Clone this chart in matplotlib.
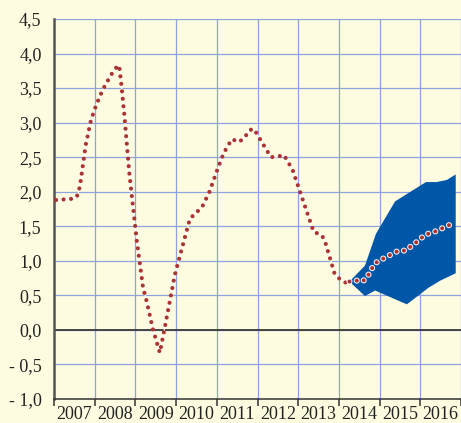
import numpy as np
import matplotlib
matplotlib.use("Agg")
import matplotlib.pyplot as plt

plt.rcParams['font.family'] = ['Liberation Serif', 'DejaVu Serif']
plt.rcParams['lines.scale_dashes'] = False

# historical series
hist_x = [2007.05, 2007.50, 2007.58, 2007.64, 2007.78, 2007.91, 2008.04, 2008.20,
          2008.40, 2008.52, 2008.60, 2008.65, 2008.73, 2008.85, 2009.03, 2009.19,
          2009.25, 2009.43, 2009.60, 2009.74, 2009.97, 2010.34, 2010.50, 2010.64,
          2010.82, 2011.02, 2011.17, 2011.37, 2011.55, 2011.69, 2011.80, 2011.91,
          2012.33, 2012.50, 2012.65, 2012.86, 2013.38, 2013.58, 2013.66, 2013.89,
          2014.03, 2014.18]
hist_y = [1.88, 1.90, 1.95, 2.09, 2.68, 3.04, 3.26, 3.48,
          3.69, 3.79, 3.83, 3.58, 3.10, 2.27, 1.31, 0.60,
          0.48, 0.01, -0.33, 0.09, 0.80, 1.61, 1.70, 1.78,
          2.00, 2.33, 2.56, 2.76, 2.72, 2.79, 2.89, 2.91,
          2.50, 2.51, 2.53, 2.32, 1.42, 1.37, 1.28, 0.82,
          0.73, 0.68]

# forecast (central path)
fc_x = [2014.26, 2014.37, 2014.58, 2014.70, 2014.80, 2014.90, 2015.08, 2015.44,
        2015.64, 2015.97, 2016.12, 2016.31, 2016.87]
fc_y = [0.70, 0.72, 0.70, 0.77, 0.88, 0.97, 1.03, 1.14,
        1.15, 1.30, 1.38, 1.41, 1.56]

# forecast band
band_up_x = [2014.26, 2014.64, 2014.91, 2015.38, 2016.14, 2016.40, 2016.65, 2016.87]
band_up_y = [0.70, 0.93, 1.39, 1.86, 2.14, 2.14, 2.17, 2.25]
band_lo_x = [2014.26, 2014.64, 2014.89, 2015.67, 2016.20, 2016.48, 2016.87]
band_lo_y = [0.70, 0.49, 0.57, 0.37, 0.61, 0.71, 0.82]

years = list(range(2007, 2017))
yticks = [-1.0, -0.5, 0.0, 0.5, 1.0, 1.5, 2.0, 2.5, 3.0, 3.5, 4.0, 4.5]

BG = '#FEFCE0'
RED = '#AA3333'
BLUE = '#0057A8'
GRID = '#8FA2E0'

fig = plt.figure(figsize=(4.61, 4.23), dpi=100, facecolor=BG)
ax = fig.add_axes([54 / 461, 1 - 399 / 423, 1 - 54 / 461, 380 / 423])
ax.set_facecolor(BG)

ax.set_xlim(2007, 2017)
ax.set_ylim(-1.0, 4.5)

# grid
ax.set_xticks([y for y in years] + [2017])
ax.set_yticks(yticks)
ax.grid(True, color=GRID, lw=0.9)
ax.set_axisbelow(True)
ax.axhline(0, color='#3a3a3a', lw=1.3, zorder=2)

# band
poly_x = band_up_x + band_lo_x[::-1]
poly_y = band_up_y + band_lo_y[::-1]
ax.fill(poly_x, poly_y, color=BLUE, lw=0, zorder=3)

# history: thin white line under red dots
ax.plot(hist_x, hist_y, color='white', lw=1.0, zorder=4)
ax.plot(hist_x, hist_y, color=RED, lw=3.0, dash_capstyle='round',
        linestyle=(0, (0.01, 5.4)), zorder=5)

# forecast: red dots with white rim
ax.plot(fc_x, fc_y, color='white', lw=4.4, dash_capstyle='round',
        linestyle=(0, (0.01, 5.4)), zorder=5)
ax.plot(fc_x, fc_y, color=RED, lw=3.0, dash_capstyle='round',
        linestyle=(0, (0.01, 5.4)), zorder=6)

# spines
for s in ['top', 'right']:
    ax.spines[s].set_visible(False)
ax.spines['left'].set_color('#555555')
ax.spines['left'].set_linewidth(1.8)
ax.spines['bottom'].set_color('#333333')
ax.spines['bottom'].set_linewidth(1.1)

# tick labels
ylabels = [('- ' + f'{abs(v):.1f}').replace('.', ',') if v < 0 else f'{v:.1f}'.replace('.', ',')
           for v in yticks]
ax.set_yticklabels(ylabels, fontsize=13, color='#222222')
ax.tick_params(axis='y', length=0, pad=9)
ax.tick_params(axis='x', which='major', direction='out', length=5, width=1.1,
               color='#333333', labelbottom=False)
ax.set_xticks([y + 0.5 for y in years], minor=True)
ax.set_xticklabels([str(y) for y in years], minor=True, fontsize=13, color='#222222')
ax.tick_params(axis='x', which='minor', length=0, pad=5)

fig.savefig('out.png', dpi=100, facecolor=BG)
